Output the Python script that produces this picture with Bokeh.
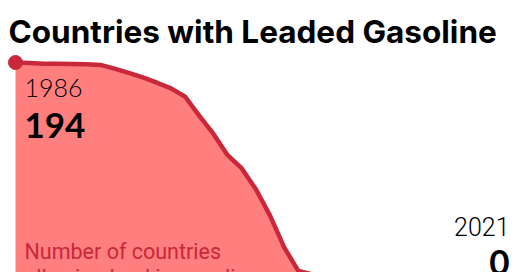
from bokeh.plotting import figure
from bokeh.models import Range1d, Label
from bokeh.embed import file_html
from bokeh.resources import INLINE

title = "Countries with Leaded Gasoline"
years = list(range(1986, 2022))
countries = [194, 193.5, 193, 193, 192.8, 192.5, 192, 189, 185.5, 181.7, 177.3, 172.6,
             165.7, 150, 135, 117.5, 106.5, 89.3, 67.6, 41.3, 22, 19, 17, 15, 12, 8,
             6, 6, 5, 4, 3, 3, 2, 1, 1, 0]
start_label = ["1986", "194"]
end_label = ["2021", "0"]
note = ["Number of countries", "allowing lead in gasoline"]

W, H = 520, 272
FILL = "#ff7f7f"
LINE = "#c8283a"

p = figure(width=W, height=H, output_backend="svg", toolbar_location=None,
           x_range=Range1d(1984.94, 2021.71), y_range=Range1d(20.6, 245.2),
           min_border=0, outline_line_color=None)
p.axis.visible = False
p.grid.visible = False
p.background_fill_color = "white"

p.varea(x=years, y1=[0] * len(years), y2=countries, fill_color=FILL)
p.line(x=years, y=countries, line_color=LINE, line_width=4.5, line_join="round")
p.scatter(x=[years[0]], y=[countries[0]], size=14, color=LINE)

def lab(text, x, y, size, font="Roboto", style="normal", color="black", align="left"):
    p.add_layout(Label(x=x, y=H - y, x_units="screen", y_units="screen", text=text,
                       text_font=font, text_font_size=f"{size}px", text_font_style=style,
                       text_color=color, text_align=align, text_baseline="top"))

lab(title, 8, 11, 31.5, font="Inter", style="bold")
lab(start_label[0], 24, 78, 25, font="Lato Light")
lab(start_label[1], 24, 112.5, 35, font="Lato", style="bold")
lab(note[0], 24, 238.5, 21.5, font="Roboto", color=LINE)
lab(note[1], 24, 264, 21.5, font="Roboto", color=LINE)
lab(end_label[0], 509, 216, 25, font="Roboto Light", align="right")
lab(end_label[1], 509, 249, 35, font="Lato", style="bold", align="right")

open("out.html", "w").write(file_html(p, INLINE))
